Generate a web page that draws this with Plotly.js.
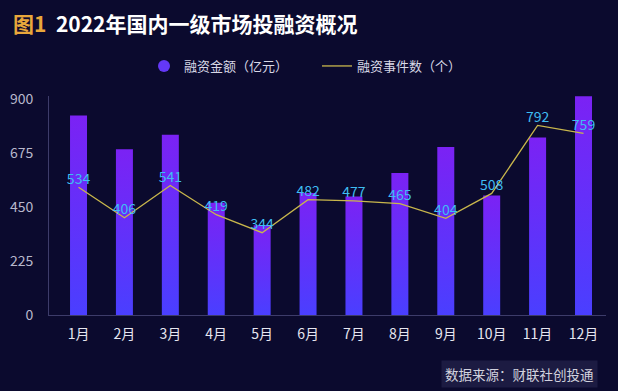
<!DOCTYPE html>
<html>
<head>
<meta charset="utf-8">
<script src="https://cdn.plot.ly/plotly-3.0.1.min.js"></script>
<style>
html,body{margin:0;padding:0;background:#0b0a2e;}
#chart{width:618px;height:391px;}
</style>
</head>
<body>
<div id="chart"></div>
<script>
const months = ['1月','2月','3月','4月','5月','6月','7月','8月','9月','10月','11月','12月'];
const amount = [834, 693, 753, 469, 375, 510, 495, 593, 702, 499, 742, 914];
const events = [534, 406, 541, 419, 344, 482, 477, 465, 404, 508, 792, 759];
const yTicks = [0, 225, 450, 675, 900];
const seriesNames = ['融资金额（亿元）', '融资事件数（个）'];

const FONT = '"Noto Sans CJK SC", "Noto Sans", sans-serif';

const traces = [
  {
    type: 'bar', x: months, y: amount, name: seriesNames[0], showlegend: false,
    width: 0.37, marker: {color: '#5f35fa', line: {width: 0}}, hoverinfo: 'skip'
  },
  {
    type: 'scatter', mode: 'markers', x: [null], y: [null], name: seriesNames[0],
    marker: {symbol: 'circle', size: 12, color: '#6438f7'}
  },
  {
    type: 'scatter', mode: 'lines', x: months, y: events, name: seriesNames[1],
    line: {color: '#c9b74c', width: 1.3}
  },
  {
    type: 'scatter', mode: 'text', x: months, y: events, text: events.map(String),
    textposition: 'top center', showlegend: false,
    textfont: {color: '#3fbdf2', size: 14, family: FONT}
  }
];

const layout = {
  width: 618, height: 391,
  paper_bgcolor: '#0b0a2e', plot_bgcolor: '#0b0a2e',
  margin: {l: 49, r: 12, t: 96, b: 76},
  font: {family: FONT, color: '#dcdcea'},
  title: {
    text: '<span style="color:#e9a73b">图1</span>&nbsp;&nbsp;2022年国内一级市场投融资概况',
    x: 13/618, xanchor: 'left', xref: 'container',
    y: 1 - 25/391, yanchor: 'middle', yref: 'container',
    font: {size: 21, color: '#ffffff', family: FONT, weight: 'bold'}
  },
  showlegend: true,
  legend: {
    orientation: 'h', x: 144/618, xanchor: 'left', xref: 'container',
    y: 1 - 66/391, yanchor: 'middle', yref: 'container',
    font: {size: 13, color: '#d8d8e6', family: FONT},
    itemwidth: 30, entrywidth: 128, entrywidthmode: 'pixels',
    bgcolor: 'rgba(0,0,0,0)', traceorder: 'normal'
  },
  xaxis: {
    type: 'category', range: [-0.643, 11.49],
    showline: true, linecolor: '#3d3c6a', linewidth: 1,
    showgrid: false, zeroline: false, ticks: '',
    ticklabelstandoff: 6,
    tickfont: {size: 14, color: '#e6e6f0', family: FONT}
  },
  yaxis: {
    range: [0, 915], tickvals: yTicks, ticktext: yTicks.map(String),
    showline: true, linecolor: '#3d3c6a', linewidth: 1,
    showgrid: false, zeroline: false, ticks: '',
    ticklabelstandoff: 12,
    tickfont: {size: 14, color: '#b8b8cc', family: FONT}
  },
  annotations: [
    {
      text: '数据来源：财联社创投通', xref: 'paper', yref: 'paper',
      x: (598 - 49) / 557, xanchor: 'right', y: (315 - 374) / 219, yanchor: 'middle',
      showarrow: false, font: {size: 13.5, color: '#d2d2de', family: FONT},
      bgcolor: '#1c1b42', borderpad: 3
    }
  ]
};

Plotly.newPlot('chart', traces, layout, {displayModeBar: false, staticPlot: true}).then(function(gd){
  const svg = gd.querySelector('.main-svg');
  const ns = 'http://www.w3.org/2000/svg';
  let defs = svg.querySelector('defs');
  if (!defs) { defs = document.createElementNS(ns, 'defs'); svg.insertBefore(defs, svg.firstChild); }
  const g = document.createElementNS(ns, 'linearGradient');
  g.setAttribute('id', 'barGrad');
  g.setAttribute('x1', '0'); g.setAttribute('y1', '0');
  g.setAttribute('x2', '0'); g.setAttribute('y2', '1');
  [['0%', '#7b22f4'], ['100%', '#4a3fff']].forEach(function(s){
    const st = document.createElementNS(ns, 'stop');
    st.setAttribute('offset', s[0]); st.setAttribute('stop-color', s[1]);
    g.appendChild(st);
  });
  defs.appendChild(g);
  gd.querySelectorAll('.barlayer .point path').forEach(function(p){
    p.style.fill = 'url(#barGrad)';
  });
});
</script>
</body>
</html>
